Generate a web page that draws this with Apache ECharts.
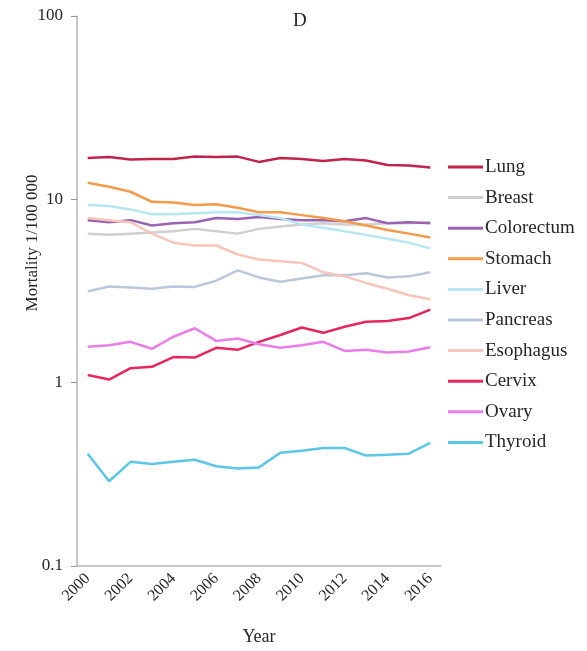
<!DOCTYPE html>
<html>
<head>
<meta charset="utf-8">
<script src="https://cdn.jsdelivr.net/npm/echarts@6/dist/echarts.min.js"></script>
<style>
  html, body { margin: 0; padding: 0; background: #fff; }
  #chart { width: 587px; height: 651px; }
</style>
</head>
<body>
<div id="chart"></div>
<script>
const years = ['2000', '2001', '2002', '2003', '2004', '2005', '2006', '2007', '2008',
  '2009', '2010', '2011', '2012', '2013', '2014', '2015', '2016']

const lung = [16.8, 17.0, 16.5, 16.6, 16.6, 17.1, 17.0, 17.1, 16.0, 16.8, 16.6, 16.2, 16.6, 16.3, 15.4, 15.3, 14.9]
const breast = [6.5, 6.4, 6.5, 6.6, 6.7, 6.9, 6.7, 6.5, 6.9, 7.1, 7.3, 7.4, 7.3, 7.3, 7.4, 7.4, 7.5]
const colorectum = [7.7, 7.5, 7.7, 7.2, 7.4, 7.5, 7.9, 7.8, 8.0, 7.8, 7.7, 7.7, 7.6, 7.9, 7.4, 7.5, 7.4]
const stomach = [12.3, 11.7, 11.0, 9.7, 9.6, 9.3, 9.4, 9.0, 8.5, 8.5, 8.2, 7.9, 7.6, 7.2, 6.8, 6.5, 6.2]
const liver = [9.3, 9.2, 8.8, 8.3, 8.3, 8.4, 8.5, 8.5, 8.2, 7.9, 7.3, 7.0, 6.7, 6.4, 6.1, 5.8, 5.4]
const pancreas = [3.15, 3.35, 3.3, 3.25, 3.35, 3.33, 3.6, 4.1, 3.75, 3.55, 3.7, 3.85, 3.85, 3.95, 3.75, 3.8, 4.0]
const esophagus = [7.9, 7.7, 7.5, 6.5, 5.8, 5.6, 5.6, 5.0, 4.7, 4.6, 4.5, 4.0, 3.8, 3.5, 3.25, 3.0, 2.85]
const cervix = [1.1, 1.04, 1.2, 1.22, 1.38, 1.37, 1.55, 1.51, 1.67, 1.82, 2.0, 1.87, 2.02, 2.15, 2.17, 2.25, 2.5]
const ovary = [1.57, 1.6, 1.67, 1.53, 1.78, 1.98, 1.69, 1.74, 1.62, 1.55, 1.6, 1.67, 1.49, 1.51, 1.46, 1.48, 1.56]
const thyroid = [0.41, 0.29, 0.37, 0.36, 0.37, 0.38, 0.35, 0.34, 0.345, 0.415, 0.425, 0.44, 0.44, 0.40, 0.405, 0.41, 0.47]

const seriesDefs = [
  { name: 'Lung', data: lung, color: '#c0244b' },
  { name: 'Breast', data: breast, color: '#cfcfcf' },
  { name: 'Colorectum', data: colorectum, color: '#9b62b3' },
  { name: 'Stomach', data: stomach, color: '#f39a4b' },
  { name: 'Liver', data: liver, color: '#b8e6f2' },
  { name: 'Pancreas', data: pancreas, color: '#bcc6dc' },
  { name: 'Esophagus', data: esophagus, color: '#f6c6ba' },
  { name: 'Cervix', data: cervix, color: '#e8265e' },
  { name: 'Ovary', data: ovary, color: '#ea7de9' },
  { name: 'Thyroid', data: thyroid, color: '#5cc6e6' }
]

const serif = '"Liberation Serif", "DejaVu Serif", serif'
const axisGrey = '#b5b5b5'
const textColor = '#262626'

const chart = echarts.init(document.getElementById('chart'))

chart.setOption({
  animation: false,
  title: {
    text: 'D',
    left: 288,
    top: 7,
    textStyle: { fontFamily: serif, fontSize: 19, fontWeight: 'normal', color: textColor }
  },
  legend: {
    orient: 'vertical',
    left: 443,
    top: 152,
    icon: 'rect',
    itemWidth: 35,
    itemHeight: 3,
    itemGap: 10.6,
    textStyle: { fontFamily: serif, fontSize: 19, color: textColor, lineHeight: 20, padding: [0, 0, 0, -3] },
    data: seriesDefs.map(s => s.name)
  },
  grid: {
    left: 77,
    top: 16,
    right: 146,
    bottom: 84
  },
  xAxis: {
    type: 'category',
    data: years,
    boundaryGap: true,
    name: 'Year',
    nameLocation: 'middle',
    nameGap: 62,
    nameTextStyle: { fontFamily: serif, fontSize: 18, color: textColor },
    axisLine: { lineStyle: { color: axisGrey, width: 1.5 } },
    axisTick: { interval: 0, length: 5, lineStyle: { color: '#999', width: 1 } },
    axisLabel: {
      interval: 1,
      rotate: 45,
      margin: 10,
      fontFamily: serif,
      fontSize: 16,
      color: textColor
    },
    splitLine: { show: false }
  },
  yAxis: {
    type: 'log',
    logBase: 10,
    min: 0.1,
    max: 100,
    axisLine: { show: true, lineStyle: { color: axisGrey, width: 1.5 } },
    axisTick: { show: true, length: 6, lineStyle: { color: '#999' } },
    minorTick: { show: false },
    axisLabel: {
      margin: 14,
      fontFamily: serif,
      fontSize: 17,
      color: textColor,
      formatter: v => String(v)
    },
    splitLine: { show: false }
  },
  graphic: [
    {
      type: 'text',
      x: 33,
      y: 243,
      rotation: Math.PI / 2,
      style: {
        text: 'Mortality 1/100 000',
        fontFamily: serif,
        fontSize: 17,
        fill: textColor,
        textAlign: 'center',
        textVerticalAlign: 'middle'
      }
    }
  ],
  series: seriesDefs.map(s => ({
    name: s.name,
    type: 'line',
    data: s.data,
    symbol: 'none',
    smooth: false,
    itemStyle: { color: s.color },
    lineStyle: { color: s.color, width: 2.5 }
  }))
})
</script>
</body>
</html>
